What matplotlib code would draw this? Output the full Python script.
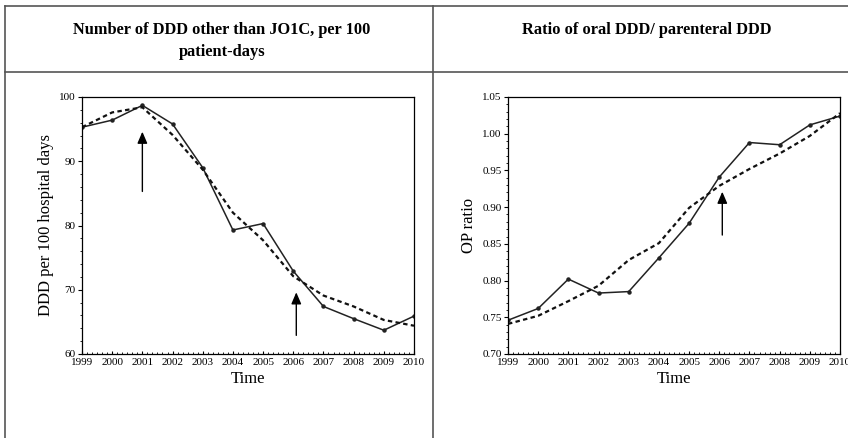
import matplotlib
matplotlib.use("Agg")
import matplotlib.pyplot as plt
from matplotlib.lines import Line2D
from matplotlib.ticker import MultipleLocator

plt.rcParams["font.family"] = ["Liberation Serif", "DejaVu Serif"]

years = list(range(1999, 2011))

# DDD other than J01C per 100 patient-days
ddd_obs = [95.3, 96.4, 98.7, 95.8, 89.0, 79.3, 80.3, 72.9, 67.4, 65.5, 63.7, 65.9]
ddd_fit = [95.3, 97.6, 98.4, 94.1, 88.7, 82.0, 77.7, 72.1, 69.1, 67.4, 65.3, 64.4]
ddd_arrows = [(2001.0, 85.3, 94.6), (2006.1, 62.9, 69.6)]

# oral / parenteral ratio
op_obs = [0.746, 0.762, 0.802, 0.783, 0.785, 0.831, 0.878, 0.941, 0.988, 0.985, 1.012, 1.024]
op_fit = [0.741, 0.752, 0.772, 0.793, 0.828, 0.851, 0.899, 0.929, 0.952, 0.973, 0.997, 1.028]
op_arrows = [(2006.1, 0.862, 0.921)]

fig = plt.figure(figsize=(8.48, 4.38), dpi=100)

# table frame around the two panels
W, H = 848, 438
def hline(y, x0, x1):
    fig.add_artist(Line2D([x0 / W, x1 / W], [1 - y / H, 1 - y / H], color="#555555", lw=1.2))
def vline(x, y0, y1):
    fig.add_artist(Line2D([x / W, x / W], [1 - y0 / H, 1 - y1 / H], color="#555555", lw=1.2))

hline(6, 5, 848)
hline(72, 5, 848)
vline(5, 6, 438)
vline(433, 6, 438)

fig.text(222 / W, 1 - 41 / H, "Number of DDD other than JO1C, per 100\npatient-days",
         ha="center", va="center", fontsize=11.8, fontweight="bold", linespacing=1.45)
fig.text(647 / W, 1 - 30 / H, "Ratio of oral DDD/ parenteral DDD",
         ha="center", va="center", fontsize=11.8, fontweight="bold")

ax1 = fig.add_axes([82 / W, 1 - 354 / H, (414 - 82) / W, (354 - 97) / H])
ax2 = fig.add_axes([508 / W, 1 - 354 / H, (840 - 508) / W, (354 - 97) / H])

panels = [
    (ax1, ddd_obs, ddd_fit, ddd_arrows, (60, 100), 10, 2, "DDD per 100 hospital days", "{:.0f}"),
    (ax2, op_obs, op_fit, op_arrows, (0.70, 1.05), 0.05, 0.01, "OP ratio", "{:.2f}"),
]

for ax, obs, fit, arrows, ylim, major, minor, ylabel, fmt in panels:
    ax.plot(years, obs, color="#222222", lw=1.1, marker="o", ms=2.2)
    ax.plot(years, fit, color="#111111", lw=1.6, ls=(0, (2, 1.5)))
    for x, y0, y1 in arrows:
        ax.annotate("", xy=(x, y1), xytext=(x, y0),
                    arrowprops=dict(arrowstyle="-|>,head_length=0.7,head_width=0.3",
                                    color="black", lw=1.0, shrinkA=0, shrinkB=0))
    ax.set_xlim(1999, 2010)
    ax.set_ylim(*ylim)
    ax.set_xticks(years)
    ax.xaxis.set_minor_locator(MultipleLocator(0.1666667))
    ax.yaxis.set_major_locator(MultipleLocator(major))
    ax.yaxis.set_minor_locator(MultipleLocator(minor))
    ax.set_yticklabels([fmt.format(v) for v in ax.get_yticks()])
    ax.tick_params(axis="both", which="major", labelsize=8, length=3, width=0.8, pad=1.5)
    ax.tick_params(axis="x", which="minor", direction="in", length=1.5, width=0.6)
    ax.tick_params(axis="y", which="minor", direction="out", length=1.5, width=0.6)
    ax.tick_params(axis="x", which="major", direction="in", length=2, pad=3)
    for sp in ax.spines.values():
        sp.set_linewidth(0.9)
    ax.set_xlabel("Time", fontsize=12, labelpad=3)
    ax.set_ylabel(ylabel, fontsize=12, labelpad=4)

fig.savefig("out.png", dpi=100)
